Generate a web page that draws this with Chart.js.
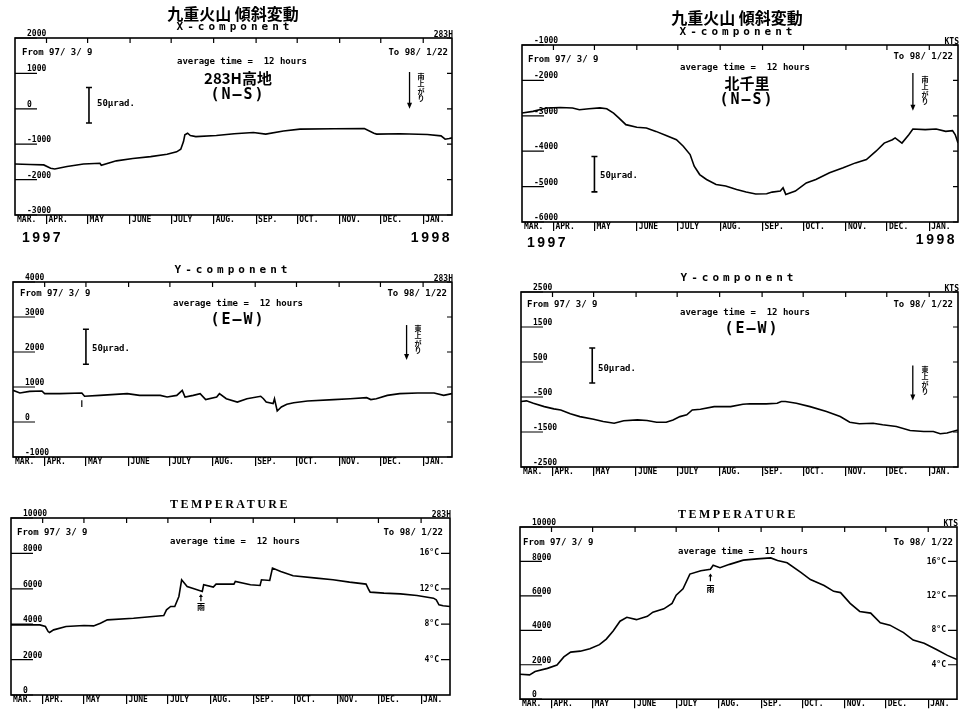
<!DOCTYPE html>
<html>
<head>
<meta charset="utf-8">
<script src="https://cdn.jsdelivr.net/npm/chart.js@4/dist/chart.umd.min.js"></script>
<style>
html, body { margin: 0; padding: 0; background: #fff; }
body { width: 960px; height: 716px; position: relative; overflow: hidden; }
canvas { position: absolute; }
</style>
</head>
<body>
<canvas id="tl" width="480" height="252" style="left:0;top:0"></canvas>
<canvas id="tr" width="480" height="252" style="left:480px;top:0"></canvas>
<canvas id="ml" width="480" height="230" style="left:0;top:255px"></canvas>
<canvas id="mr" width="480" height="230" style="left:480px;top:255px"></canvas>
<canvas id="bl" width="480" height="231" style="left:0;top:485px"></canvas>
<canvas id="br" width="480" height="231" style="left:480px;top:485px"></canvas>
<script>
// Time axis: days counted from 1997/3/9 to 1998/1/22
const MONTH_DAYS = [0, 23, 53, 84, 114, 145, 176, 206, 237, 267, 298];
const MONTH_LABELS = ['MAR.', 'APR.', 'MAY', 'JUNE', 'JULY', 'AUG.', 'SEP.', 'OCT.', 'NOV.', 'DEC.', 'JAN.'];
const LAST_DAY = 319;
const TEMP_TICKS = [4, 8, 12, 16];

// 283H高地 X-component (N-S)
const dayX283 = [0,11,21,26,29,38,50,62,63,74,86,99,111,118,121,123,124,126,128,132,147,160,174,183,196,208,233,255,262,264,281,301,311,314,317,319];
const valX283 = [-1560,-1575,-1585,-1680,-1700,-1630,-1560,-1540,-1595,-1470,-1405,-1350,-1285,-1215,-1140,-925,-735,-690,-755,-785,-755,-705,-670,-715,-625,-575,-565,-555,-690,-715,-705,-725,-765,-860,-840,-820];

// 北千里 X-component (N-S)
const dayXKTS = [0,8,18,28,37,42,49,57,62,67,71,76,84,91,98,105,113,118,123,126,130,135,142,149,157,164,171,179,183,189,191,193,200,208,215,225,235,244,252,259,265,271,273,278,283,286,295,303,310,315,317,319];
const valXKTS = [-2920,-2875,-2780,-2765,-2780,-2830,-2800,-2775,-2800,-2925,-3065,-3250,-3325,-3345,-3440,-3550,-3675,-3860,-4095,-4425,-4660,-4800,-4940,-4985,-5080,-5155,-5210,-5200,-5155,-5125,-5035,-5220,-5125,-4895,-4800,-4610,-4470,-4330,-4235,-4000,-3770,-3675,-3625,-3770,-3535,-3375,-3390,-3375,-3440,-3420,-3535,-3770];

// 283H高地 Y-component (E-W)
const dayY283 = [0,5,12,21,23,34,50,52,63,83,92,107,112,119,123,125,131,136,140,148,150,155,163,170,180,182,184,189,190,192,195,199,204,214,233,245,257,260,264,272,281,294,306,313,319];
const valY283 = [905,830,875,885,810,810,830,735,760,810,760,760,715,760,905,715,760,810,640,715,810,665,570,665,735,665,570,525,665,315,430,505,550,600,640,665,695,640,665,760,810,830,830,760,810];

// 北千里 Y-component (E-W)
const dayYKTS = [0,4,9,17,24,29,36,43,53,60,68,75,85,92,99,106,111,116,121,125,131,141,153,162,167,179,187,190,193,201,211,223,233,240,247,257,264,274,284,294,301,306,311,319];
const valYKTS = [-630,-610,-680,-775,-840,-870,-980,-1060,-1135,-1200,-1250,-1180,-1155,-1170,-1220,-1220,-1155,-1060,-1010,-870,-850,-775,-775,-705,-695,-695,-680,-630,-630,-680,-775,-915,-1060,-1220,-1265,-1250,-1295,-1345,-1455,-1485,-1485,-1550,-1530,-1440];

// Temperature counts (500 counts = 1°C)
const dayT283 = [0,9,21,25,27,28,31,40,53,60,65,70,89,111,113,116,119,122,124,128,133,139,140,147,149,162,163,174,181,182,188,190,196,205,222,234,246,258,260,261,271,283,295,307,309,311,314,319];
const valT283 = [3960,3960,3960,3870,3585,3530,3680,3870,3925,3905,4055,4245,4340,4490,4810,5000,5000,5565,6510,6130,6000,5850,6225,6095,6265,6265,6415,6225,6190,6510,6470,7170,6980,6735,6605,6510,6375,6265,5945,5810,5755,5715,5620,5470,5375,5095,5040,5000];

const dayTKTS = [0,7,11,20,27,32,37,44,51,58,63,68,73,78,85,93,97,105,111,114,119,124,132,139,141,146,153,163,173,183,188,195,205,212,222,229,234,241,248,256,263,270,280,287,295,304,312,319];
const valTKTS = [1450,1415,1605,1790,1980,2455,2735,2790,2925,3170,3490,3960,4530,4755,4620,4810,5055,5245,5565,6040,6415,7265,7455,7545,7775,7640,7830,8075,8150,8205,8055,7925,7360,6945,6605,6265,6190,5565,5095,5000,4435,4300,3870,3435,3245,2885,2545,2300];

const MONO = '"DejaVu Sans Mono", monospace';
const CJK = '"Noto Sans CJK JP", sans-serif';
const F_SMALL = 'bold 9px ' + MONO;
const F_TITLE = 'bold 16px ' + CJK;
const F_COMP = 'bold 11px ' + MONO;
const F_TEMP = 'bold 12px "Liberation Serif", serif';
const F_STATION = 'bold 15px ' + CJK;
const F_DIR = 'bold 15px ' + MONO;
const F_YEAR = 'bold 14px "Liberation Sans", sans-serif';
const F_VERT = 'bold 7px ' + CJK;
const F_TICK = { family: '"DejaVu Sans Mono", monospace', size: 8, weight: 'bold' };
const XAXIS_H = 12;
const AVG = 'average time =  12 hours';

const panels = [
  { id: 'tl', box: [0, 0, 480, 252], frame: [15, 38, 452, 215], yMin: -3000, yMax: 2000, yStep: 1000, unit: '283H',
    days: dayX283, vals: valX283,
    texts: [['九重火山 傾斜変動', 233, 14, F_TITLE, 'center'], ['X-component', 235, 27, F_COMP, 'center', 4],
      ['From 97/ 3/ 9', 22, 53, F_SMALL, 'left'], ['To 98/ 1/22', 448, 53, F_SMALL, 'right'],
      [AVG, 242, 62, F_SMALL, 'center'], ['283H高地', 238, 78, F_STATION, 'center'], ['(N—S)', 238, 95, F_DIR, 'center', 2],
      ['50μrad.', 97, 104, F_SMALL, 'left'], ['1997', 22, 238, F_YEAR, 'left', 2.5], ['1998', 452, 238, F_YEAR, 'right', 2.5]],
    vtext: ['南上がり', 421, 76], bar: [54, 600, -400], arrow: [288, 1040, 0] },
  { id: 'tr', box: [480, 0, 480, 252], frame: [522, 45, 958, 222], yMin: -6000, yMax: -1000, yStep: 1000, unit: 'KTS',
    days: dayXKTS, vals: valXKTS,
    texts: [['九重火山 傾斜変動', 737, 18, F_TITLE, 'center'], ['X-component', 738, 32, F_COMP, 'center', 4],
      ['From 97/ 3/ 9', 528, 60, F_SMALL, 'left'], ['To 98/ 1/22', 953, 57, F_SMALL, 'right'],
      [AVG, 745, 68, F_SMALL, 'center'], ['北千里', 747, 83, F_STATION, 'center'], ['(N—S)', 747, 100, F_DIR, 'center', 2],
      ['50μrad.', 600, 176, F_SMALL, 'left'], ['1997', 527, 243, F_YEAR, 'left', 2.5], ['1998', 957, 240, F_YEAR, 'right', 2.5]],
    vtext: ['南上がり', 925, 79], bar: [53, -4150, -5150], arrow: [286, -1790, -2860] },
  { id: 'ml', box: [0, 255, 480, 230], frame: [13, 282, 452, 457], yMin: -1000, yMax: 4000, yStep: 1000, unit: '283H',
    days: dayY283, vals: valY283,
    texts: [['Y-component', 233, 270, F_COMP, 'center', 4],
      ['From 97/ 3/ 9', 20, 294, F_SMALL, 'left'], ['To 98/ 1/22', 447, 294, F_SMALL, 'right'],
      [AVG, 238, 304, F_SMALL, 'center'], ['(E—W)', 238, 320, F_DIR, 'center', 2],
      ['50μrad.', 92, 349, F_SMALL, 'left']],
    vtext: ['東上がり', 418, 328], bar: [53, 2650, 1650], arrow: [286, 2770, 1770], mark: [50, 620, 430] },
  { id: 'mr', box: [480, 255, 480, 230], frame: [521, 292, 958, 467], yMin: -2500, yMax: 2500, yStep: 1000, unit: 'KTS',
    days: dayYKTS, vals: valYKTS,
    texts: [['Y-component', 739, 278, F_COMP, 'center', 4],
      ['From 97/ 3/ 9', 527, 305, F_SMALL, 'left'], ['To 98/ 1/22', 953, 305, F_SMALL, 'right'],
      [AVG, 745, 313, F_SMALL, 'center'], ['(E—W)', 752, 329, F_DIR, 'center', 2],
      ['50μrad.', 598, 369, F_SMALL, 'left']],
    vtext: ['東上がり', 925, 369], bar: [52, 900, -100], arrow: [286, 400, -600] },
  { id: 'bl', box: [0, 485, 480, 231], frame: [11, 518, 450, 695], yMin: 0, yMax: 10000, yStep: 2000, unit: '283H', temp: true,
    days: dayT283, vals: valT283,
    texts: [['TEMPERATURE', 230, 505, F_TEMP, 'center', 2.5],
      ['From 97/ 3/ 9', 17, 533, F_SMALL, 'left'], ['To 98/ 1/22', 443, 533, F_SMALL, 'right'],
      [AVG, 235, 542, F_SMALL, 'center']],
    rain: [138, 5700, 5300, 4970] },
  { id: 'br', box: [480, 485, 480, 231], frame: [520, 527, 957, 703], yMin: 0, yMax: 10000, yStep: 2000, unit: 'KTS', temp: true,
    days: dayTKTS, vals: valTKTS,
    texts: [['TEMPERATURE', 738, 515, F_TEMP, 'center', 2.5],
      ['From 97/ 3/ 9', 523, 543, F_SMALL, 'left'], ['To 98/ 1/22', 953, 543, F_SMALL, 'right'],
      [AVG, 743, 552, F_SMALL, 'center']],
    rain: [139, 7300, 6850, 6420] }
];

function putText(ctx, t, ox, oy) {
  const [str, x, y, font, align, sp] = t;
  ctx.font = font;
  ctx.textAlign = align || 'left';
  ctx.textBaseline = 'middle';
  ctx.letterSpacing = (sp || 0) + 'px';
  ctx.fillText(str, x - ox, y - oy);
  ctx.letterSpacing = '0px';
}

// Frame, inner tick marks and the plotter annotations of one panel
function decorPlugin(p) {
  return {
    id: 'decor_' + p.id,
    afterDraw(chart) {
      const { ctx, chartArea: a, scales } = chart;
      const xs = scales.x, ys = scales.y, ts = scales.yT;
      const ox = p.box[0], oy = p.box[1];
      ctx.save();
      ctx.strokeStyle = '#000';
      ctx.fillStyle = '#000';
      ctx.lineWidth = 1.6;
      ctx.strokeRect(a.left, a.top, a.right - a.left, a.bottom - a.top);

      ctx.lineWidth = 1.2;
      ctx.beginPath();
      xs.ticks.forEach((t, i) => {
        if (!i) return;
        const px = xs.getPixelForValue(t.value);
        ctx.moveTo(px, a.top); ctx.lineTo(px, a.top + 5);
      });
      ys.ticks.forEach(t => {
        const py = ys.getPixelForValue(t.value);
        ctx.moveTo(a.left, py); ctx.lineTo(a.left + 22, py);
      });
      const rs = ts || ys, rl = ts ? 9 : 5;
      rs.ticks.forEach(t => {
        const py = rs.getPixelForValue(t.value);
        ctx.moveTo(a.right, py); ctx.lineTo(a.right - rl, py);
      });
      ctx.stroke();

      ctx.font = 'bold 8px ' + MONO;
      ctx.textAlign = 'right';
      ctx.textBaseline = 'bottom';
      ctx.fillText(p.unit, a.right + 1, a.top + 1);

      p.texts.forEach(t => putText(ctx, t, ox, oy));

      if (p.vtext) {
        const [str, x, y] = p.vtext;
        ctx.font = F_VERT; ctx.textAlign = 'center'; ctx.textBaseline = 'middle';
        [...str].forEach((c, i) => ctx.fillText(c, x - ox, y - oy + i * 7.5));
      }

      ctx.lineWidth = 1.6;
      if (p.bar) {
        const x = xs.getPixelForValue(p.bar[0]);
        const y1 = ys.getPixelForValue(p.bar[1]), y2 = ys.getPixelForValue(p.bar[2]);
        ctx.beginPath();
        ctx.moveTo(x, y1); ctx.lineTo(x, y2);
        ctx.moveTo(x - 3, y1); ctx.lineTo(x + 3, y1);
        ctx.moveTo(x - 3, y2); ctx.lineTo(x + 3, y2);
        ctx.stroke();
      }
      if (p.arrow) {
        const x = xs.getPixelForValue(p.arrow[0]);
        const y1 = ys.getPixelForValue(p.arrow[1]), y2 = ys.getPixelForValue(p.arrow[2]);
        ctx.lineWidth = 1.3;
        ctx.beginPath(); ctx.moveTo(x, y1); ctx.lineTo(x, y2 - 4); ctx.stroke();
        ctx.beginPath(); ctx.moveTo(x - 2.5, y2 - 6); ctx.lineTo(x + 2.5, y2 - 6); ctx.lineTo(x, y2); ctx.closePath(); ctx.fill();
      }
      if (p.mark) {
        const x = xs.getPixelForValue(p.mark[0]);
        ctx.lineWidth = 1.2;
        ctx.beginPath(); ctx.moveTo(x, ys.getPixelForValue(p.mark[1])); ctx.lineTo(x, ys.getPixelForValue(p.mark[2])); ctx.stroke();
      }
      if (p.rain) {
        const x = xs.getPixelForValue(p.rain[0]);
        const yt = ys.getPixelForValue(p.rain[1]), yb = ys.getPixelForValue(p.rain[2]);
        ctx.lineWidth = 1.2;
        ctx.beginPath(); ctx.moveTo(x, yt + 2); ctx.lineTo(x, yb); ctx.stroke();
        ctx.beginPath(); ctx.moveTo(x - 2, yt + 3); ctx.lineTo(x + 2, yt + 3); ctx.lineTo(x, yt); ctx.closePath(); ctx.fill();
        ctx.font = 'bold 8px ' + CJK; ctx.textAlign = 'center'; ctx.textBaseline = 'middle';
        ctx.fillText('雨', x, ys.getPixelForValue(p.rain[3]));
      }
      ctx.restore();
    }
  };
}

Chart.defaults.color = '#000';
Chart.defaults.font.family = MONO;

panels.forEach(p => {
  const [bx, by, bw, bh] = p.box;
  const [fl, ft, fr, fb] = p.frame;
  const scales = {
    x: {
      type: 'linear', position: 'bottom', min: 0, max: LAST_DAY,
      afterBuildTicks: s => { s.ticks = MONTH_DAYS.map(v => ({ value: v })); },
      afterFit: s => { s.height = XAXIS_H; },
      ticks: {
        autoSkip: false, maxRotation: 0, minRotation: 0, align: 'start', labelOffset: 2, padding: -9,
        font: F_TICK, color: '#000',
        callback: v => MONTH_LABELS[MONTH_DAYS.indexOf(v)]
      },
      grid: {
        drawOnChartArea: false, drawTicks: true, tickLength: 9, lineWidth: 1.2,
        color: c => (c.index === 0 ? 'rgba(0,0,0,0)' : '#000')
      },
      border: { display: false }
    },
    y: {
      type: 'linear', position: 'left', min: p.yMin, max: p.yMax,
      afterFit: s => { s.width = 0; },
      ticks: { stepSize: p.yStep, mirror: true, padding: 12, labelOffset: -4, font: F_TICK, color: '#000',
        callback: v => String(v) },
      grid: { display: false, drawTicks: false },
      border: { display: false }
    }
  };
  if (p.temp) {
    // right-hand °C scale, labels sit inside the frame next to their ticks
    scales.yT = {
      type: 'linear', position: 'right', min: 0, max: 20,
      afterBuildTicks: s => { s.ticks = TEMP_TICKS.map(v => ({ value: v })); },
      afterFit: s => { s.width = 0; },
      ticks: { mirror: true, padding: -11, font: F_TICK, color: '#000', callback: v => v + '°C' },
      grid: { display: false, drawTicks: false },
      border: { display: false }
    };
  }
  new Chart(document.getElementById(p.id), {
    type: 'line',
    data: {
      datasets: [{
        data: p.days.map((d, i) => ({ x: d, y: p.vals[i] })),
        borderColor: '#000', borderWidth: 1.6, pointRadius: 0, tension: 0, fill: false
      }]
    },
    options: {
      responsive: false, animation: false, devicePixelRatio: 1,
      layout: { padding: { left: fl - bx, top: ft - by, right: bx + bw - fr, bottom: by + bh - fb - XAXIS_H } },
      plugins: { legend: { display: false }, tooltip: { enabled: false }, title: { display: false } },
      scales
    },
    plugins: [decorPlugin(p)]
  });
});
</script>
</body>
</html>
